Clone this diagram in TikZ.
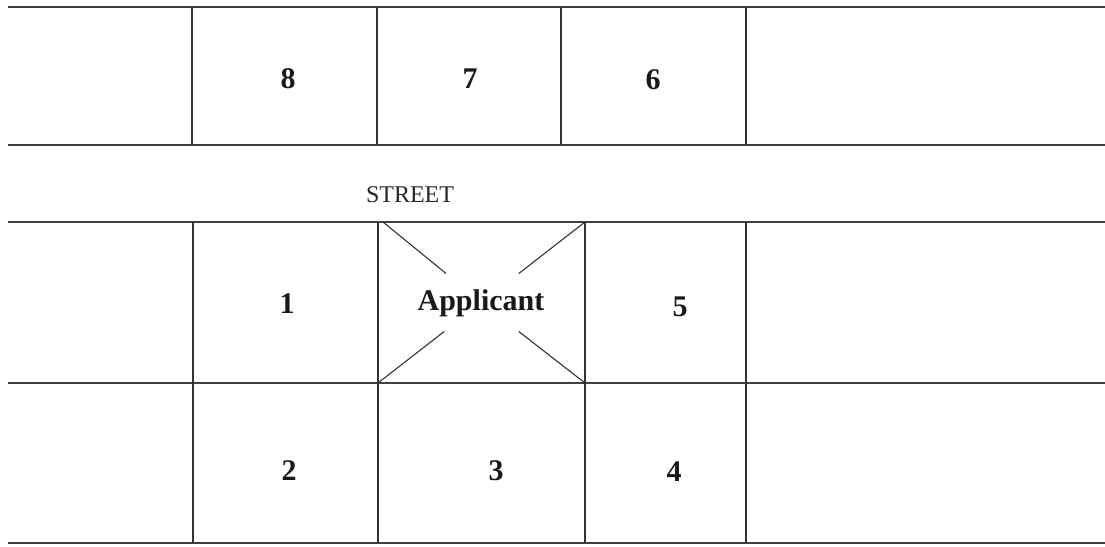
\documentclass[tikz,border=0pt]{standalone}
\usepackage{fontspec}
\setmainfont{Liberation Serif}
\usepackage{tikz}
\usetikzlibrary{calc}

\begin{document}
\begin{tikzpicture}[x=1pt,y=-1pt,
  hline/.style={black!75,line width=1.7pt},
  vline/.style={black!80,line width=1.1pt},
  lot/.style={black!90,font=\fontsize{30}{30}\selectfont\bfseries},
  streetlbl/.style={black!85,font=\fontsize{24}{24}\selectfont}]
\useasboundingbox (0,0) rectangle (1105,546);
% block edges and street
\foreach \y in {7,145,222,383,543}{
  \draw[hline] (8,\y) -- (1105,\y);}
\foreach \x in {192,377,561,746}{
  \draw[vline] (\x,7) -- (\x,145);}
\foreach \x in {193,378,585,746}{
  \draw[vline] (\x,222) -- (\x,543);}
% lot numbers
\node[lot] (lot8) at (288,79) {8};
\node[lot] (lot7) at (470,79) {7};
\node[lot] (lot6) at (653,80) {6};
\node[streetlbl] (street) at (410,195) {STREET};
\node[lot] (lot1) at (287,304) {1};
\node[lot] (app) at (481,303) {Applicant};
\node[lot] (lot5) at (680,307) {5};
\node[lot] (lot2) at (289,471) {2};
\node[lot] (lot3) at (496,471) {3};
\node[lot] (lot4) at (674,472) {4};
% cross on the applicant lot
\coordinate (mid) at (481.5,302.5);
\foreach \cx/\cy in {383/222,585/222,378/383,585/383}
  \draw[vline] (\cx,\cy) -- ($(\cx,\cy)!0.64!(mid)$);
\end{tikzpicture}
\end{document}
